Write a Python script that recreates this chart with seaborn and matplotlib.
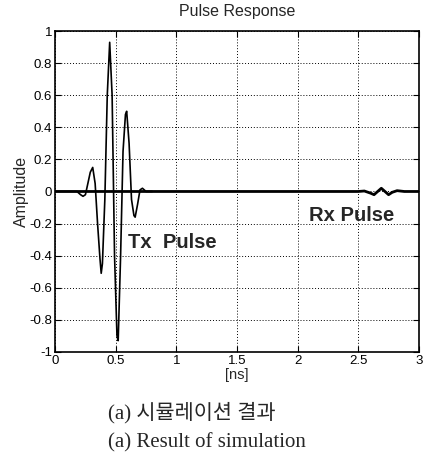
import numpy as np
import pandas as pd
import matplotlib
matplotlib.use("Agg")
import matplotlib.pyplot as plt
import seaborn as sns

# Tx pulse
tx_time = [0.0, 0.10, 0.18, 0.21, 0.23, 0.25, 0.27, 0.29, 0.31, 0.33, 0.35, 0.37,
           0.38, 0.39, 0.41, 0.43, 0.45, 0.47, 0.49, 0.51, 0.52, 0.54, 0.56, 0.58,
           0.59, 0.61, 0.63, 0.65, 0.66, 0.68, 0.70, 0.72, 0.75, 0.80]
tx_amp = [0.0, 0.0, 0.0, -0.02, -0.03, -0.02, 0.05, 0.12, 0.15, 0.05, -0.20, -0.42,
          -0.51, -0.45, -0.05, 0.60, 0.93, 0.60, -0.40, -0.90, -0.93, -0.40, 0.25, 0.48,
          0.50, 0.30, -0.05, -0.15, -0.16, -0.08, 0.01, 0.02, 0.0, 0.0]

# Rx pulse
rx_time = [0.0, 0.5, 1.0, 1.5, 2.0, 2.5, 2.55, 2.60, 2.63, 2.66, 2.69, 2.72,
           2.75, 2.78, 2.82, 2.88, 3.0]
rx_amp = [0.0, 0.0, 0.0, 0.0, 0.0, 0.0, 0.003, -0.01, -0.02, 0.0, 0.02, 0.0,
          -0.02, -0.005, 0.005, 0.0, 0.0]

x_ticks = [0, 0.5, 1, 1.5, 2, 2.5, 3]
x_labels = ["0", "0.5", "1", "1.5", "2", "2.5", "3"]
y_ticks = [-1, -0.8, -0.6, -0.4, -0.2, 0, 0.2, 0.4, 0.6, 0.8, 1]
y_labels = ["-1", "-0.8", "-0.6", "-0.4", "-0.2", "0", "0.2", "0.4", "0.6", "0.8", "1"]

tx_df = pd.DataFrame({"t": tx_time, "a": tx_amp})
rx_df = pd.DataFrame({"t": rx_time, "a": rx_amp})

sns.set_style("ticks")
plt.rcParams["font.family"] = ["Liberation Sans", "DejaVu Sans"]
plt.rcParams["axes.unicode_minus"] = False

fig = plt.figure(figsize=(4.24, 4.57), dpi=100)
ax = fig.add_axes([0.130, 0.230, 0.858, 0.702])

sns.lineplot(data=rx_df, x="t", y="a", ax=ax, color="black", linewidth=2.0,
             estimator=None, sort=False)
sns.lineplot(data=tx_df, x="t", y="a", ax=ax, color="black", linewidth=1.2,
             estimator=None, sort=False)

ax.set_xlim(0, 3)
ax.set_ylim(-1, 1)
ax.set_xticks(x_ticks)
ax.set_xticklabels(x_labels)
ax.set_yticks(y_ticks)
ax.set_yticklabels(y_labels)
ax.grid(True, color="black", linestyle=(0, (1, 2)), linewidth=0.7)
ax.tick_params(direction="in", length=4, top=True, right=True, labelsize=9.5,
               colors="black", pad=2)
for s in ax.spines.values():
    s.set_color("black")
    s.set_linewidth(1.2)

ax.set_title("Pulse Response", fontsize=11.5, pad=11)
ax.set_xlabel("[ns]", fontsize=10.5, labelpad=1)
ax.set_ylabel("Amplitude", fontsize=11.5, labelpad=0)

ax.text(0.60, -0.32, "Tx  Pulse", fontsize=14.5, fontweight="bold", va="center")
ax.text(2.09, -0.15, "Rx Pulse", fontsize=14.5, fontweight="bold", va="center")

cap_font = ["Liberation Serif", "Noto Sans CJK KR"]
fig.text(108 / 424, 1 - 413 / 457, "(a) 시뮬레이션 결과", fontsize=15, family=cap_font,
         ha="left", va="center")
fig.text(108 / 424, 1 - 443 / 457, "(a) Result of simulation", fontsize=15, family=cap_font,
         ha="left", va="center")

fig.savefig("out.png", dpi=100)
